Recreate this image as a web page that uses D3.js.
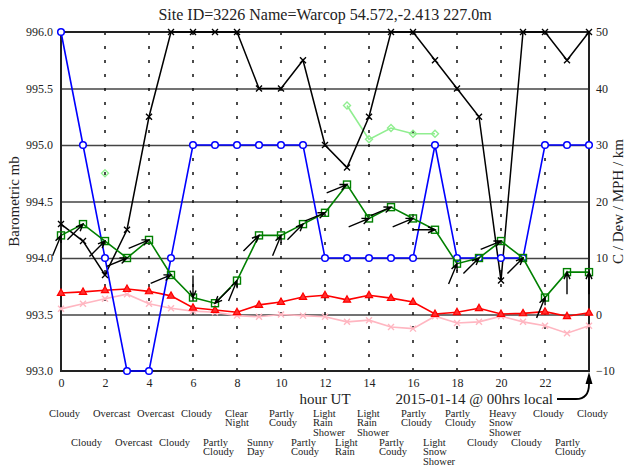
<!DOCTYPE html>
<html>
<head>
<meta charset="utf-8">
<script src="https://cdn.jsdelivr.net/npm/d3@7"></script>
<style>
  body { margin: 0; background: #fff; }
  text { font-family: "Liberation Serif", "DejaVu Serif", serif; fill: #222; }
</style>
</head>
<body>
<div id="chart"></div>
<script>
// Data
const hours = [0, 1, 2, 3, 4, 5, 6, 7, 8, 9, 10, 11, 12, 13, 14, 15, 16, 17, 18, 19, 20, 21, 22, 23, 24];
const pressure = [996, 995, 994, 993, 993, 994, 995, 995, 995, 995, 995, 995, 994, 994, 994, 994, 994, 995, 994, 994, 994, 994, 995, 995, 995];
const visibility = [16, 13, 7, 15, 35, 50, 50, 50, 50, 40, 40, 45, 30, 26, 35, 50, 50, 45, 40, 35, 6, 50, 50, 45, 50];
const windSpeed = [14, 16, 13, 10, 13.2, 7, 3, 2, 6, 14, 14, 16, 18, 23, 17, 19, 17, 15, 9, 10, 13, 10, 3, 7.5, 7.5];
const windDir = [202.5, 225, 225, 247.5, 247.5, 247.5, 0, 45, 202.5, 225, 202.5, 225, 247.5, 247.5, 247.5, 247.5, 247.5, 270, 202.5, 225, 247.5, 225, 202.5, 180, 180];
const gust = [null, null, 25, null, null, null, null, null, null, null, null, null, null, 37, 31, 33, 32, 32, null, null, null, null, null, null, null];
const temp = [3.8, 4.0, 4.3, 4.5, 4.1, 3.3, 1.2, 0.8, 0.4, 1.7, 2.2, 3.1, 3.4, 2.6, 3.4, 2.9, 2.2, 0.1, 0.4, 1.1, 0.1, 0.2, 0.5, -0.3, 0.3];
const dew = [1.0, 1.9, 2.8, 3.6, 1.9, 1.1, 0.6, 0.4, -0.2, -0.4, 0, -0.2, -0.4, -1.3, -1.0, -2.2, -2.5, -0.3, -1.5, -1.3, -0.3, -1.3, -2.0, -3.3, -2.0];
const weatherEven = [["Cloudy"], ["Overcast"], ["Overcast"], ["Cloudy"], ["Clear", "Night"], ["Partly", "Coudy"], ["Light", "Rain", "Shower"], ["Light", "Rain", "Shower"], ["Partly", "Cloudy"], ["Partly", "Cloudy"], ["Heavy", "Snow", "Shower"], ["Cloudy"], ["Cloudy"]];
const weatherOdd = [["Cloudy"], ["Overcast"], ["Cloudy"], ["Partly", "Cloudy"], ["Sunny", "Day"], ["Partly", "Coudy"], ["Light", "Rain"], ["Partly", "Coudy"], ["Light", "Snow", "Shower"], ["Cloudy"], ["Cloudy"], ["Partly", "Cloudy"]];
const leftTicks = [993.0, 993.5, 994.0, 994.5, 995.0, 995.5, 996.0];
const rightTicks = [-10, 0, 10, 20, 30, 40, 50];
const xTicks = [0, 2, 4, 6, 8, 10, 12, 14, 16, 18, 20, 22];

const width = 630;
const height = 466;
const margin = { top: 32, right: 41, bottom: 95, left: 61 };

const svg = d3.select("#chart")
  .append("svg")
  .attr("width", width)
  .attr("height", height);

const x = d3.scaleLinear().domain([0, 24]).range([margin.left, width - margin.right]);
const yL = d3.scaleLinear().domain([993, 996]).range([height - margin.bottom, margin.top]);
const yR = d3.scaleLinear().domain([-10, 50]).range([height - margin.bottom, margin.top]);

const plotTop = margin.top, plotBottom = height - margin.bottom;

// Horizontal grid
svg.append("g")
  .attr("transform", `translate(${x(0)},0)`)
  .call(d3.axisLeft(yL).tickValues(leftTicks.slice(1, -1)).tickSize(-(x(24) - x(0))).tickFormat(""))
  .call(g => g.select(".domain").remove())
  .selectAll("line").style("stroke", "#444").style("stroke-width", 1.3);

// Dotted verticals
svg.append("g")
  .selectAll("line")
  .data(xTicks.filter(d => d > 0))
  .join("line")
  .attr("x1", d => x(d)).attr("x2", d => x(d))
  .attr("y1", plotTop).attr("y2", plotBottom)
  .style("stroke", "#111")
  .style("stroke-width", 1.5)
  .style("stroke-dasharray", "3,11");

// Frame
svg.append("rect")
  .attr("x", x(0)).attr("y", plotTop)
  .attr("width", x(24) - x(0)).attr("height", plotBottom - plotTop)
  .attr("fill", "none").attr("stroke", "#222").attr("stroke-width", 2);

// Axes labels
const leftAxis = svg.append("g")
  .attr("transform", `translate(${x(0)},0)`)
  .call(d3.axisLeft(yL).tickValues(leftTicks).tickSize(0).tickPadding(8).tickFormat(d3.format(".1f")));
const rightAxis = svg.append("g")
  .attr("transform", `translate(${x(24)},0)`)
  .call(d3.axisRight(yR).tickValues(rightTicks).tickSize(0).tickPadding(7));
const bottomAxis = svg.append("g")
  .attr("transform", `translate(0,${plotBottom})`)
  .call(d3.axisBottom(x).tickValues(xTicks).tickSize(0).tickPadding(7));
[leftAxis, rightAxis, bottomAxis].forEach(g => {
  g.select(".domain").remove();
  g.attr("font-family", null);
  g.selectAll("text")
    .style("font-family", "'Liberation Serif', serif")
    .style("font-size", "12px")
    .style("fill", "#222");
});

// Series helpers
function drawLine(values, scale, color, w) {
  const line = d3.line()
    .defined(d => d[1] != null)
    .x(d => x(d[0]))
    .y(d => scale(d[1]));
  svg.append("path")
    .datum(hours.map((h, i) => [h, values[i]]))
    .attr("d", line)
    .attr("fill", "none")
    .attr("stroke", color)
    .attr("stroke-width", w);
}

function pts(values) {
  return hours.map((h, i) => [h, values[i]]).filter(d => d[1] != null);
}

function drawCross(values, scale, color, s) {
  svg.append("g").selectAll("path")
    .data(pts(values))
    .join("path")
    .attr("d", d => {
      const cx = x(d[0]), cy = scale(d[1]);
      return `M${cx - s},${cy - s}L${cx + s},${cy + s}M${cx - s},${cy + s}L${cx + s},${cy - s}`;
    })
    .attr("stroke", color)
    .attr("stroke-width", 1.4);
}

// Dew point (pink)
drawLine(dew, yR, "#ffb6c1", 1.6);
drawCross(dew, yR, "#ffb6c1", 3);

// Temperature (red)
drawLine(temp, yR, "#ff0000", 1.6);
svg.append("g").selectAll("path")
  .data(pts(temp))
  .join("path")
  .attr("transform", d => `translate(${x(d[0])},${yR(d[1])})`)
  .attr("d", "M0,-4L3.6,2.4L-3.6,2.4Z")
  .attr("fill", "#ff3030")
  .attr("stroke", "#ff0000")
  .attr("stroke-width", 1.2);

// Gusts (light green)
drawLine(gust, yR, "#90ee90", 1.6);
svg.append("g").selectAll("path")
  .data(pts(gust))
  .join("path")
  .attr("transform", d => `translate(${x(d[0])},${yR(d[1])})`)
  .attr("d", "M0,-3.5L3.5,0L0,3.5L-3.5,0Z")
  .attr("fill", "none")
  .attr("stroke", "#90ee90")
  .attr("stroke-width", 1.4);

// Visibility (black)
drawLine(visibility, yR, "#000", 1.5);
drawCross(visibility, yR, "#000", 3);

// Pressure (blue)
drawLine(pressure, yL, "#0000ff", 1.6);
svg.append("g").selectAll("circle")
  .data(pts(pressure))
  .join("circle")
  .attr("cx", d => x(d[0]))
  .attr("cy", d => yL(d[1]))
  .attr("r", 3.3)
  .attr("fill", "#fff")
  .attr("stroke", "#0000ff")
  .attr("stroke-width", 1.5);

// Wind speed (green)
drawLine(windSpeed, yR, "#008000", 1.6);
svg.append("g").selectAll("rect")
  .data(pts(windSpeed))
  .join("rect")
  .attr("x", d => x(d[0]) - 3.5)
  .attr("y", d => yR(d[1]) - 3.5)
  .attr("width", 7).attr("height", 7)
  .attr("fill", "none")
  .attr("stroke", "#008000")
  .attr("stroke-width", 1.4);

// Wind direction arrows, tip on the wind speed point
const arrowLen = 22;
svg.append("g").selectAll("path")
  .data(hours.map((h, i) => ({ h, v: windSpeed[i], dir: windDir[i] })))
  .join("path")
  .attr("transform", d => `translate(${x(d.h)},${yR(d.v)}) rotate(${d.dir})`)
  .attr("d", `M0,${-arrowLen}L0,0M-3,-7L0,0L3,-7`)
  .attr("fill", "none")
  .attr("stroke", "#000")
  .attr("stroke-width", 1.4);

// Title
svg.append("text")
  .attr("x", (x(0) + x(24)) / 2)
  .attr("y", 20)
  .attr("text-anchor", "middle")
  .style("font-size", "16px")
  .text("Site ID=3226 Name=Warcop 54.572,-2.413 227.0m");

// Y titles
svg.append("text")
  .attr("transform", `translate(19,${(plotTop + plotBottom) / 2}) rotate(-90)`)
  .attr("text-anchor", "middle")
  .style("font-size", "15px")
  .text("Barometric mb");

svg.append("text")
  .attr("transform", `translate(623,${(plotTop + plotBottom) / 2}) rotate(-90)`)
  .attr("text-anchor", "middle")
  .style("font-size", "15px")
  .text("C / Dew / MPH / km");

// X title and local-time note
svg.append("text")
  .attr("x", (x(0) + x(24)) / 2)
  .attr("y", 404)
  .attr("text-anchor", "middle")
  .style("font-size", "15px")
  .text("hour UT");

svg.append("text")
  .attr("x", 553)
  .attr("y", 404)
  .attr("text-anchor", "end")
  .style("font-size", "15px")
  .text("2015-01-14 @ 00hrs local");

svg.append("path")
  .attr("d", `M557,399L576,399Q${x(24)},399 ${x(24)},384`)
  .attr("fill", "none")
  .attr("stroke", "#000")
  .attr("stroke-width", 1.8);
svg.append("path")
  .attr("d", `M${x(24)},${plotBottom + 1}L${x(24) + 3.5},${plotBottom + 13}L${x(24) - 3.5},${plotBottom + 13}Z`)
  .attr("fill", "#000");

// Weather descriptions
function drawWeather(list, hourList, y0) {
  const g = svg.append("g").selectAll("text")
    .data(list.map((lines, i) => ({ lines, h: hourList[i] })))
    .join("text")
    .attr("x", d => x(d.h) - 12)
    .attr("y", y0)
    .style("font-size", "10.5px");
  g.selectAll("tspan")
    .data(d => d.lines.map((t, j) => ({ t, j, h: d.h })))
    .join("tspan")
    .attr("x", d => x(d.h) - 12)
    .attr("dy", d => d.j === 0 ? 0 : 9.3)
    .text(d => d.t);
}
drawWeather(weatherEven, hours.filter(h => h % 2 === 0), 417);
drawWeather(weatherOdd, hours.filter(h => h % 2 === 1), 446);
</script>
</body>
</html>
